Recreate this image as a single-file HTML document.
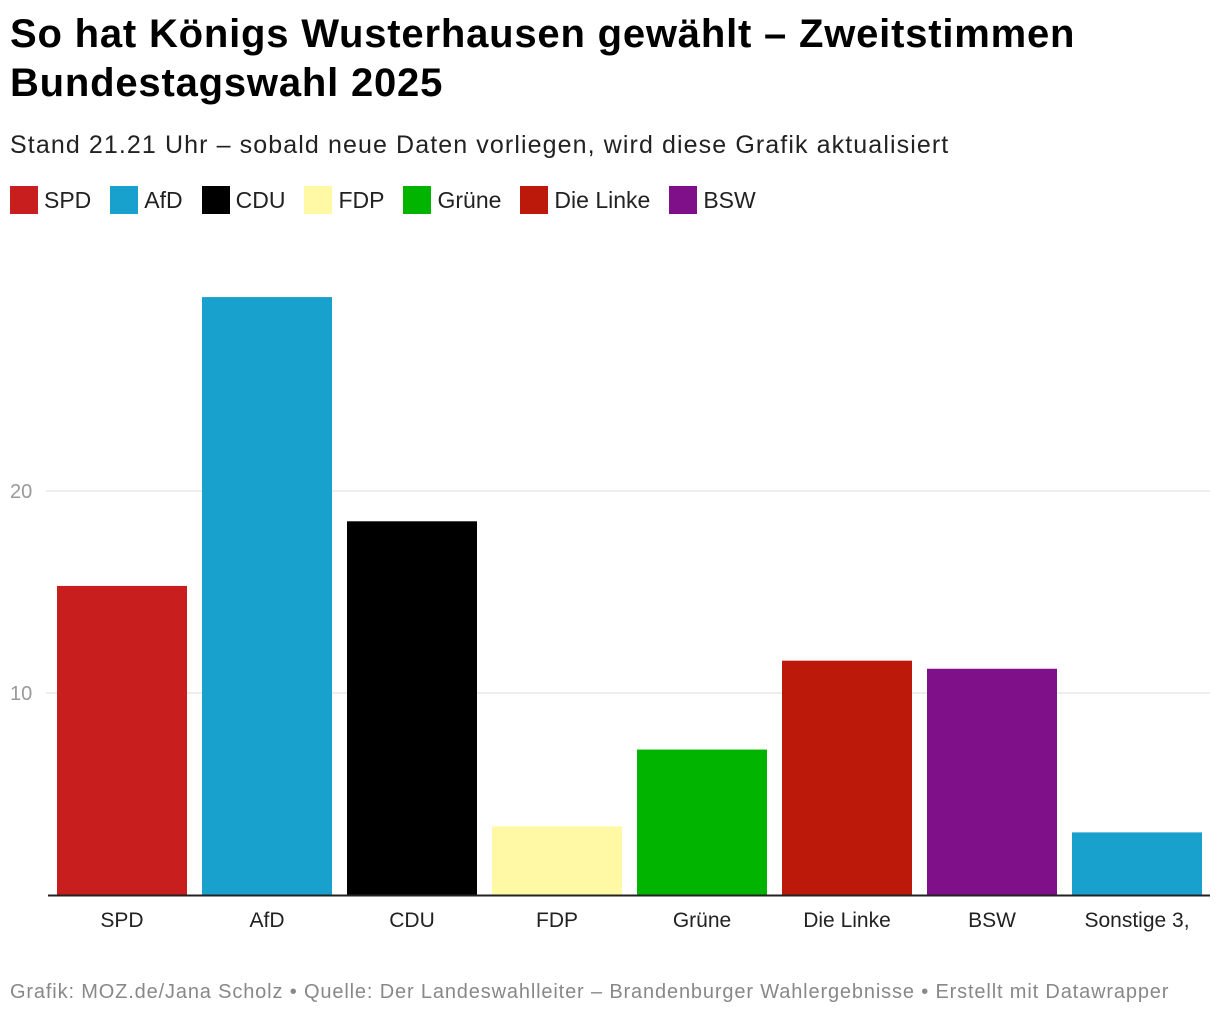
<!DOCTYPE html>
<html><head><meta charset="utf-8"><style>
body{margin:0;width:1220px;height:1018px;background:#fff;font-family:"Liberation Sans",sans-serif;position:relative;overflow:hidden}
h1{position:absolute;left:10px;top:10px;margin:0;font-size:40px;line-height:49px;font-weight:bold;color:#000;letter-spacing:0.8px}
.sub{position:absolute;left:10px;top:131px;font-size:25px;color:#222;letter-spacing:1.1px}
.legend{position:absolute;left:10px;top:186px;display:flex;font-size:23px;color:#222}
.li{display:flex;align-items:center;margin-right:19px}
.sw{width:28px;height:28px;margin-right:6px}
.foot{position:absolute;left:10px;top:981px;font-size:20px;color:#888;letter-spacing:0.85px}
svg{position:absolute;left:0;top:0}
</style></head><body>
<h1>So hat Königs Wusterhausen gewählt – Zweitstimmen<br>Bundestagswahl 2025</h1>
<div class="sub">Stand 21.21 Uhr – sobald neue Daten vorliegen, wird diese Grafik aktualisiert</div>
<div class="legend" id="legend"></div>
<svg id="chart" width="1220" height="1018"></svg>
<div class="foot">Grafik: MOZ.de/Jana Scholz • Quelle: Der Landeswahlleiter – Brandenburger Wahlergebnisse • Erstellt mit Datawrapper</div>
<script>
const categories=["SPD","AfD","CDU","FDP","Grüne","Die Linke","BSW","Sonstige 3,"];
const values=[15.3,29.6,18.5,3.4,7.2,11.6,11.2,3.1];
const colors=["#c81e1e","#18a1cd","#000000","#fff9a6","#00b400","#bc190a","#7f108a","#18a1cd"];
const ticks=[10,20];
const legendNames=["SPD","AfD","CDU","FDP","Grüne","Die Linke","BSW"];
const NS="http://www.w3.org/2000/svg";
const svg=document.getElementById('chart');
const y0=895, pxPer=20.2;
const y=v=>y0-v*pxPer;
const x=i=>57+i*145;
const bw=130;
function mk(t,a){const e=document.createElementNS(NS,t);for(const k in a)e.setAttribute(k,a[k]);svg.appendChild(e);return e;}
ticks.forEach(t=>{
  const l=mk('line',{x1:46,x2:1210,y1:y(t),y2:y(t),stroke:'#ddd','stroke-width':1});
  
  
  const tx=mk('text',{x:10,y:y(t)+7,'font-size':20,fill:'#999','font-family':'Liberation Sans'});
  tx.textContent=t;
  
  
});
values.forEach((v,i)=>{
  const r=mk('rect',{x:x(i),y:y(v),width:bw,height:y0-y(v),fill:colors[i]});
  
  
  const t=mk('text',{x:x(i)+bw/2,y:927,'font-size':21,fill:'#222','text-anchor':'middle','font-family':'Liberation Sans'});
  t.textContent=categories[i];
  
  
});
const ax=mk('line',{x1:48,x2:1210,y1:y0+0.5,y2:y0+0.5,stroke:'#222','stroke-width':2});


const lg=document.getElementById('legend');
legendNames.forEach((n,i)=>{
  const d=document.createElement('div');d.className='li';
  
  
  d.innerHTML='<div class="sw" style="background:'+colors[i]+'"></div>'+n;
  lg.appendChild(d);
});
</script>
</body></html>
